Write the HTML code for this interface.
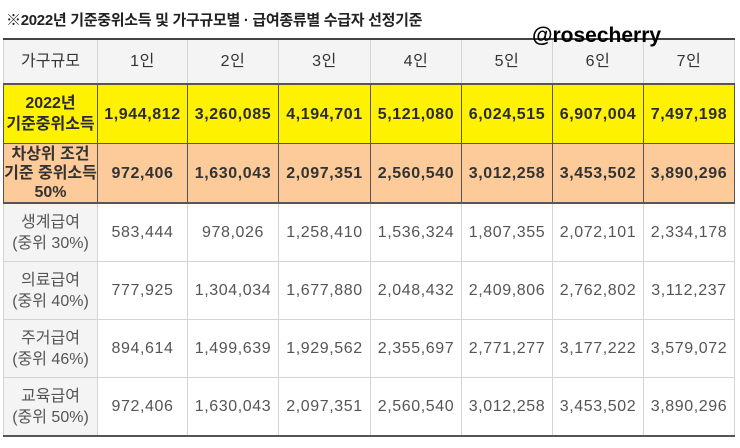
<!DOCTYPE html>
<html><head><meta charset="utf-8"><style>
body{margin:0;width:740px;height:448px;background:#fff;overflow:hidden;font-family:"Liberation Sans","Noto Sans CJK KR",sans-serif;position:relative}
.title{position:absolute;left:6px;top:9px;font-size:15px;font-weight:bold;color:#222;letter-spacing:-0.3px}
.wm{position:absolute;left:532px;top:24px;font-size:21px;font-weight:bold;color:#000;z-index:2}
table{position:absolute;left:3px;top:38px;border-collapse:collapse;table-layout:fixed;width:731px}
td{text-align:center;vertical-align:middle;font-size:16px;padding:0;line-height:21px;white-space:nowrap;letter-spacing:0.6px}
td:first-child{letter-spacing:0}
tr.h td{height:43px;background:#f4f4f4;color:#333;border:1px solid #d4d4d4;border-top:2px solid #444;border-bottom:2px solid #555}
tr.y td{height:58px;background:#fff200;color:#2a2a3a;border:1px solid #555;font-weight:bold}
tr.o td{height:58px;background:#fdcb9a;color:#333;border:1px solid #555;border-bottom:2px solid #555;font-weight:bold;line-height:19px}
tr.g td{height:57px;background:#fff;color:#555;border:1px solid #d4d4d4}
tr.g td:first-child{background:#f4f4f4}
tr.last td{border-bottom:2px solid #555}
</style></head><body>
<div class="title">※2022년 기준중위소득 및 가구규모별 · 급여종류별 수급자 선정기준</div>
<div class="wm">@rosecherry</div>
<table>
<colgroup><col style="width:94px"><col style="width:90px"><col style="width:91px"><col style="width:92px"><col style="width:91px"><col style="width:91px"><col style="width:91px"><col style="width:91px"></colgroup>
<tr class="h"><td>가구규모</td><td>1인</td><td>2인</td><td>3인</td><td>4인</td><td>5인</td><td>6인</td><td>7인</td></tr>
<tr class="y"><td>2022년<br>기준중위소득</td><td>1,944,812</td><td>3,260,085</td><td>4,194,701</td><td>5,121,080</td><td>6,024,515</td><td>6,907,004</td><td>7,497,198</td></tr>
<tr class="o"><td>차상위 조건<br>기준 중위소득<br>50%</td><td>972,406</td><td>1,630,043</td><td>2,097,351</td><td>2,560,540</td><td>3,012,258</td><td>3,453,502</td><td>3,890,296</td></tr>
<tr class="g"><td>생계급여<br>(중위 30%)</td><td>583,444</td><td>978,026</td><td>1,258,410</td><td>1,536,324</td><td>1,807,355</td><td>2,072,101</td><td>2,334,178</td></tr>
<tr class="g"><td>의료급여<br>(중위 40%)</td><td>777,925</td><td>1,304,034</td><td>1,677,880</td><td>2,048,432</td><td>2,409,806</td><td>2,762,802</td><td>3,112,237</td></tr>
<tr class="g"><td>주거급여<br>(중위 46%)</td><td>894,614</td><td>1,499,639</td><td>1,929,562</td><td>2,355,697</td><td>2,771,277</td><td>3,177,222</td><td>3,579,072</td></tr>
<tr class="g last"><td>교육급여<br>(중위 50%)</td><td>972,406</td><td>1,630,043</td><td>2,097,351</td><td>2,560,540</td><td>3,012,258</td><td>3,453,502</td><td>3,890,296</td></tr>
</table>
</body></html>
